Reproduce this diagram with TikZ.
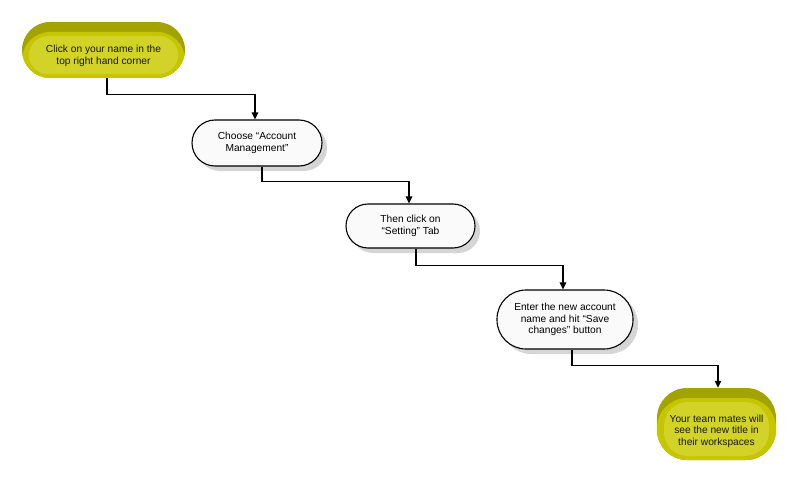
\documentclass[tikz,border=0pt]{standalone}
\usepackage{fontspec}
\setmainfont{Liberation Sans}
\usetikzlibrary{arrows.meta,shadows}
\definecolor{olbase}{RGB}{198,198,0}
\definecolor{oltop}{RGB}{163,163,0}
\definecolor{olin}{RGB}{210,210,40}
\definecolor{txtdark}{RGB}{25,25,0}
\begin{document}
\begin{tikzpicture}[x=1pt,y=-1pt,
  conn/.style={draw=black, line width=1.3pt, -{Triangle[length=7pt,width=6.5pt]}},
  whitebox/.style={draw=black, line width=1.1pt, fill=gray!4, rectangle, rounded corners=#1,
    inner sep=0pt, align=center, font=\fontsize{10.2}{11.5}\selectfont,
    drop shadow={shadow xshift=5pt, shadow yshift=-5pt, fill=gray!55, opacity=0.6}},
  yellowbox/.style 2 args={fill=oltop, rectangle, rounded corners=#1, inner sep=0pt,
    path picture={
      \fill[olbase, rounded corners=#1] ([yshift=-10pt]path picture bounding box.north west) rectangle ([yshift=0pt]path picture bounding box.south east);
      \fill[olin, rounded corners=#2] ([xshift=7pt,yshift=-14pt]path picture bounding box.north west) rectangle ([xshift=-7pt,yshift=4pt]path picture bounding box.south east);
    }},
  txt/.style={align=center, font=\fontsize{10.2}{11.5}\selectfont, inner sep=0pt, text=txtdark}
]
\useasboundingbox (0,0) rectangle (800,484);

\node[yellowbox={28pt}{19pt}, minimum width=163pt, minimum height=56pt] (n1) at (103.5,50) {};
\node[txt] (t1) at ([yshift=-6pt]n1.center) {Click on your name in the\\top right hand corner};

\node[whitebox=23pt, minimum width=130pt, minimum height=46pt] (n2) at (257,143) {Choose “Account\\Management”};
\node[whitebox=22pt, minimum width=129pt, minimum height=44pt] (n3) at (410.5,226) {Then click on\\“Setting” Tab};
\node[whitebox=29pt, minimum width=136pt, minimum height=59pt] (n4) at (565,319.5) {Enter the new account\\name and hit “Save\\changes” button};

\node[yellowbox={30pt}{24pt}, minimum width=119pt, minimum height=72pt] (n5) at (716.5,424) {};
\node[txt] (t5) at ([yshift=-7pt]n5.center) {Your team mates will\\see the new title in\\their workspaces};

\draw[conn] ([xshift=3.5pt]n1.south) -- ++(0,16) -| ([xshift=-2pt]n2.north);
\draw[conn] ([xshift=5pt]n2.south) -- ++(0,15) -| ([xshift=-1.5pt]n3.north);
\draw[conn] ([xshift=5.5pt]n3.south) -- ++(0,17) -| ([xshift=-2pt]n4.north);
\draw[conn] ([xshift=7pt]n4.south) -- ++(0,16) -| ([xshift=1.5pt]n5.north);
\end{tikzpicture}
\end{document}
